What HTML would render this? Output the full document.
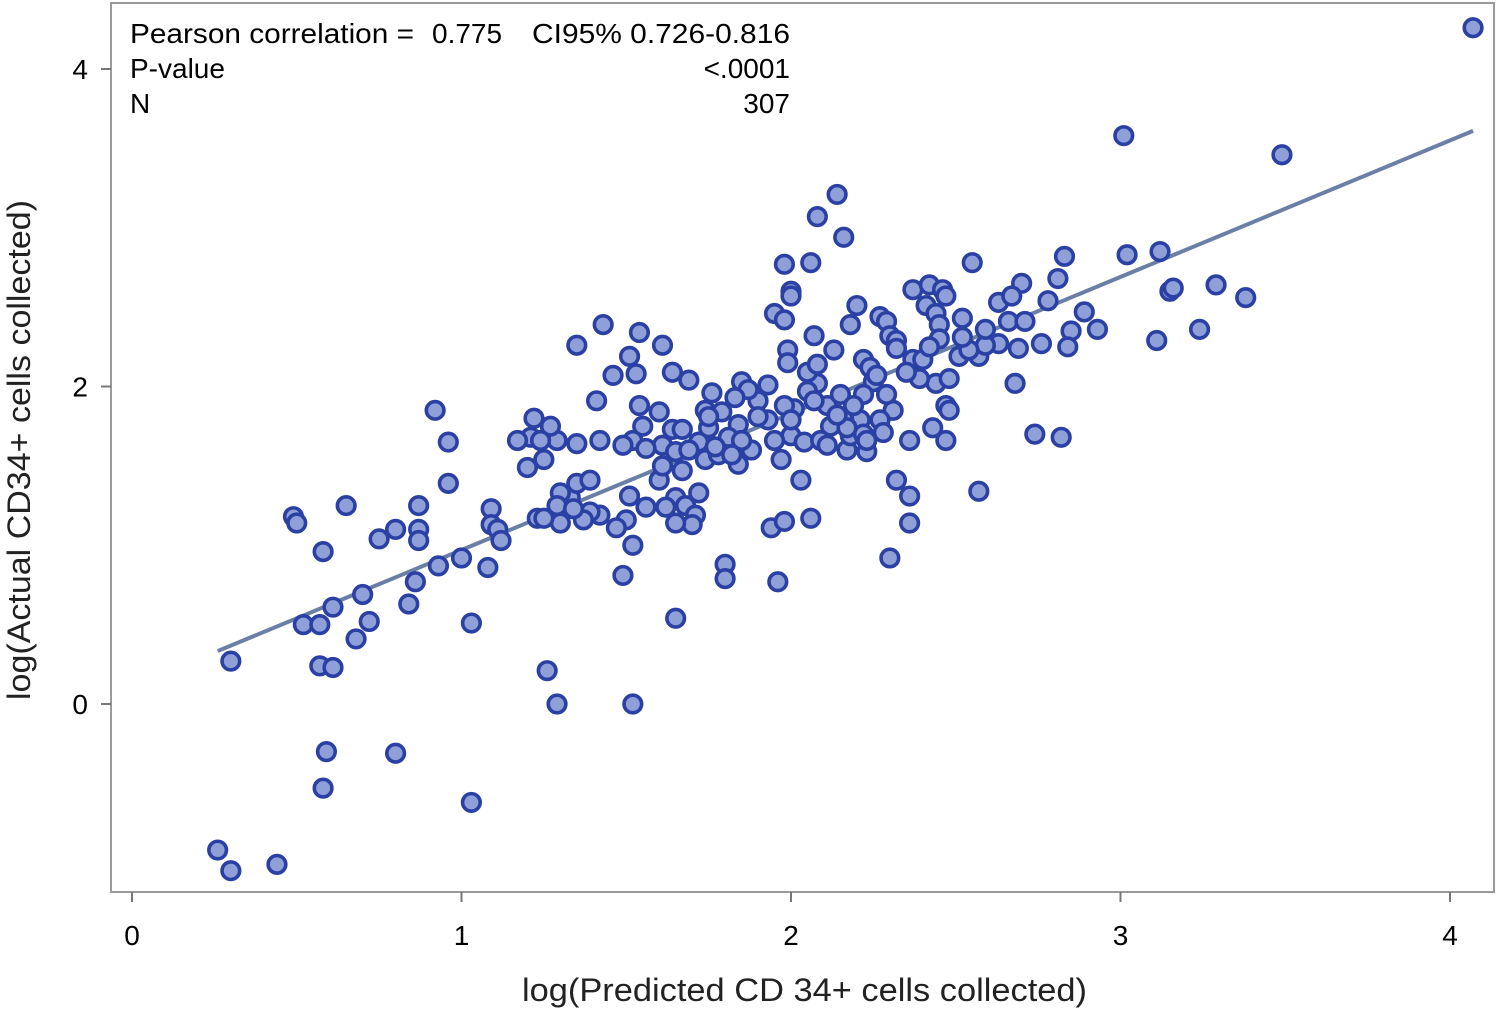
<!DOCTYPE html>
<html><head><meta charset="utf-8"><style>
body{margin:0;background:#fff;}
svg{display:block;font-family:"Liberation Sans",Arial,sans-serif;}
</style></head><body>
<svg id="chart" width="1500" height="1009" viewBox="0 0 1500 1009">
<rect x="111" y="3" width="1383" height="889" fill="none" stroke="#9a9a9a" stroke-width="2"/>
<g id="axes"></g>
<g id="line"></g>
<g id="pts"></g>
<g font-size="28" fill="#000">
<text x="130" y="43" textLength="284" lengthAdjust="spacingAndGlyphs">Pearson correlation =</text>
<text x="432" y="43">0.775</text>
<text x="790" y="43" text-anchor="end" textLength="258" lengthAdjust="spacingAndGlyphs">CI95% 0.726-0.816</text>
<text x="130" y="78">P-value</text>
<text x="790" y="78" text-anchor="end">&lt;.0001</text>
<text x="130" y="113">N</text>
<text x="790" y="113" text-anchor="end">307</text>
</g>
<text x="522" y="1001" textLength="565" lengthAdjust="spacingAndGlyphs" font-size="32" fill="#222">log(Predicted CD 34+ cells collected)</text>
<text transform="translate(30,700) rotate(-90)" textLength="500" lengthAdjust="spacingAndGlyphs" font-size="32" fill="#222">log(Actual CD34+ cells collected)</text>
</svg>
<script>
const xTicks=[0,1,2,3,4];
const yTicks=[0,2,4];
const xs=[4.07,3.01,3.49,0.30,0.26,0.30,0.44,1.03,0.58,0.59,0.80,1.29,1.52,1.26,0.57,0.61,0.52,0.57,0.61,0.68,0.70,0.72,0.84,0.86,0.93,1.00,1.03,1.08,0.49,0.50,0.58,0.65,0.75,0.80,0.87,0.87,0.87,0.92,0.96,0.96,1.09,1.09,1.11,1.12,1.65,1.49,1.80,1.80,1.96,2.30,1.94,1.98,2.06,2.03,2.36,2.36,2.32,2.57,2.68,2.74,2.82,3.11,3.24,3.29,3.38,3.12,3.02,3.15,3.16,2.83,2.81,2.78,2.89,2.93,2.85,2.84,2.76,2.70,2.55,2.14,2.08,2.16,1.98,2.06,2.00,2.00,1.95,1.98,2.07,2.20,2.18,2.27,2.29,2.30,2.32,2.37,2.42,2.46,2.47,2.41,2.44,2.45,2.52,2.45,2.51,2.57,2.63,2.66,2.63,2.67,2.71,2.69,2.37,2.44,2.48,2.47,2.48,2.43,2.47,2.36,2.31,2.22,2.24,2.25,2.29,2.27,2.28,2.21,2.23,2.17,2.18,2.16,2.12,2.11,2.08,2.05,1.99,1.99,2.05,2.01,2.00,2.04,2.09,2.11,1.97,1.95,1.93,1.90,1.93,1.85,1.87,1.83,1.79,1.76,1.74,1.75,1.84,1.88,1.84,1.74,1.72,1.64,1.67,1.60,1.64,1.69,1.61,1.54,1.51,1.53,1.46,1.43,1.35,1.41,1.42,1.35,1.29,1.27,1.22,1.21,1.17,1.24,1.20,1.25,1.54,1.55,1.52,1.49,1.61,1.65,1.60,1.61,1.67,1.72,1.65,1.68,1.71,1.70,1.65,1.62,1.56,1.51,1.50,1.47,1.52,1.42,1.39,1.37,1.33,1.35,1.39,1.30,1.30,1.23,1.25,1.29,1.34,1.78,1.81,2.22,2.23,2.08,2.13,2.22,2.39,2.40,2.59,2.54,2.59,2.52,2.42,2.32,2.35,2.26,1.90,1.98,2.07,2.15,2.19,2.17,2.14,2.00,1.75,1.77,1.56,1.69,1.85,1.82];
const ys=[4.26,3.58,3.46,0.27,-0.92,-1.05,-1.01,-0.62,-0.53,-0.30,-0.31,0.0,0.0,0.21,0.24,0.23,0.50,0.50,0.61,0.41,0.69,0.52,0.63,0.77,0.87,0.92,0.51,0.86,1.18,1.14,0.96,1.25,1.04,1.10,1.10,1.03,1.25,1.85,1.65,1.39,1.23,1.13,1.10,1.03,0.54,0.81,0.88,0.79,0.77,0.92,1.11,1.15,1.17,1.41,1.14,1.31,1.41,1.34,2.02,1.70,1.68,2.29,2.36,2.64,2.56,2.85,2.83,2.60,2.62,2.82,2.68,2.54,2.47,2.36,2.35,2.25,2.27,2.65,2.78,3.21,3.07,2.94,2.77,2.78,2.60,2.57,2.46,2.42,2.32,2.51,2.39,2.44,2.41,2.32,2.29,2.61,2.64,2.61,2.57,2.51,2.46,2.39,2.43,2.30,2.19,2.19,2.27,2.41,2.53,2.57,2.41,2.24,2.17,2.02,2.05,1.88,1.85,1.74,1.66,1.66,1.85,2.17,2.12,2.03,1.95,1.79,1.71,1.79,1.59,1.60,1.69,1.79,1.75,1.88,2.02,2.09,2.23,2.15,1.97,1.86,1.69,1.65,1.66,1.63,1.54,1.66,1.79,1.91,2.01,2.03,1.98,1.93,1.84,1.96,1.85,1.74,1.76,1.60,1.51,1.54,1.65,1.73,1.73,1.84,2.09,2.04,2.26,2.34,2.19,2.08,2.07,2.39,2.26,1.91,1.66,1.64,1.66,1.75,1.80,1.68,1.66,1.66,1.49,1.54,1.88,1.75,1.66,1.63,1.63,1.59,1.41,1.50,1.47,1.33,1.30,1.25,1.19,1.13,1.14,1.24,1.24,1.31,1.16,1.11,1.00,1.19,1.21,1.16,1.30,1.39,1.41,1.33,1.14,1.17,1.17,1.25,1.23,1.57,1.68,1.70,1.66,2.14,2.23,1.95,2.05,2.17,2.26,2.23,2.36,2.31,2.25,2.24,2.09,2.07,1.81,1.88,1.91,1.95,1.88,1.74,1.82,1.79,1.81,1.62,1.61,1.60,1.66,1.57];
const fitSlope=[0.86];
const fitIntercept=[0.11];
const fitRange=[0.26,4.07];
const NS='http://www.w3.org/2000/svg';
const X=v=>132+v*329.5;
const Y=v=>704-v*158.75;
const ax=document.getElementById('axes');
function mk(tag,attrs,parent){const e=document.createElementNS(NS,tag);for(const k in attrs)e.setAttribute(k,attrs[k]);parent.appendChild(e);return e;}
xTicks.forEach(t=>{
 const l=mk('line',{x1:X(t),x2:X(t),y1:892,y2:902,stroke:'#777','stroke-width':2},ax);
 
 
 const tx=mk('text',{x:X(t),y:945,'text-anchor':'middle','font-size':28,fill:'#000'},ax);
 tx.textContent=t;
 
 
});
yTicks.forEach(t=>{
 const l=mk('line',{x1:101,x2:111,y1:Y(t),y2:Y(t),stroke:'#777','stroke-width':2},ax);
 
 
 const tx=mk('text',{x:88,y:Y(t)+10,'text-anchor':'end','font-size':28,fill:'#000'},ax);
 tx.textContent=t;
 
 
});
const pg=document.getElementById('pts');
xs.forEach((x,i)=>{
 const c=mk('circle',{cx:X(x),cy:Y(ys[i]),r:8.8,fill:'#8f9fd8',stroke:'#2a40a4','stroke-width':3.6},pg);
 
 
});
const lg=document.getElementById('line');
const fl=mk('line',{x1:X(fitRange[0]),y1:Y(fitIntercept[0]+fitSlope[0]*fitRange[0]),x2:X(fitRange[1]),y2:Y(fitIntercept[0]+fitSlope[0]*fitRange[1]),stroke:'#6a7fa6','stroke-width':4},lg);


</script>
</body></html>
